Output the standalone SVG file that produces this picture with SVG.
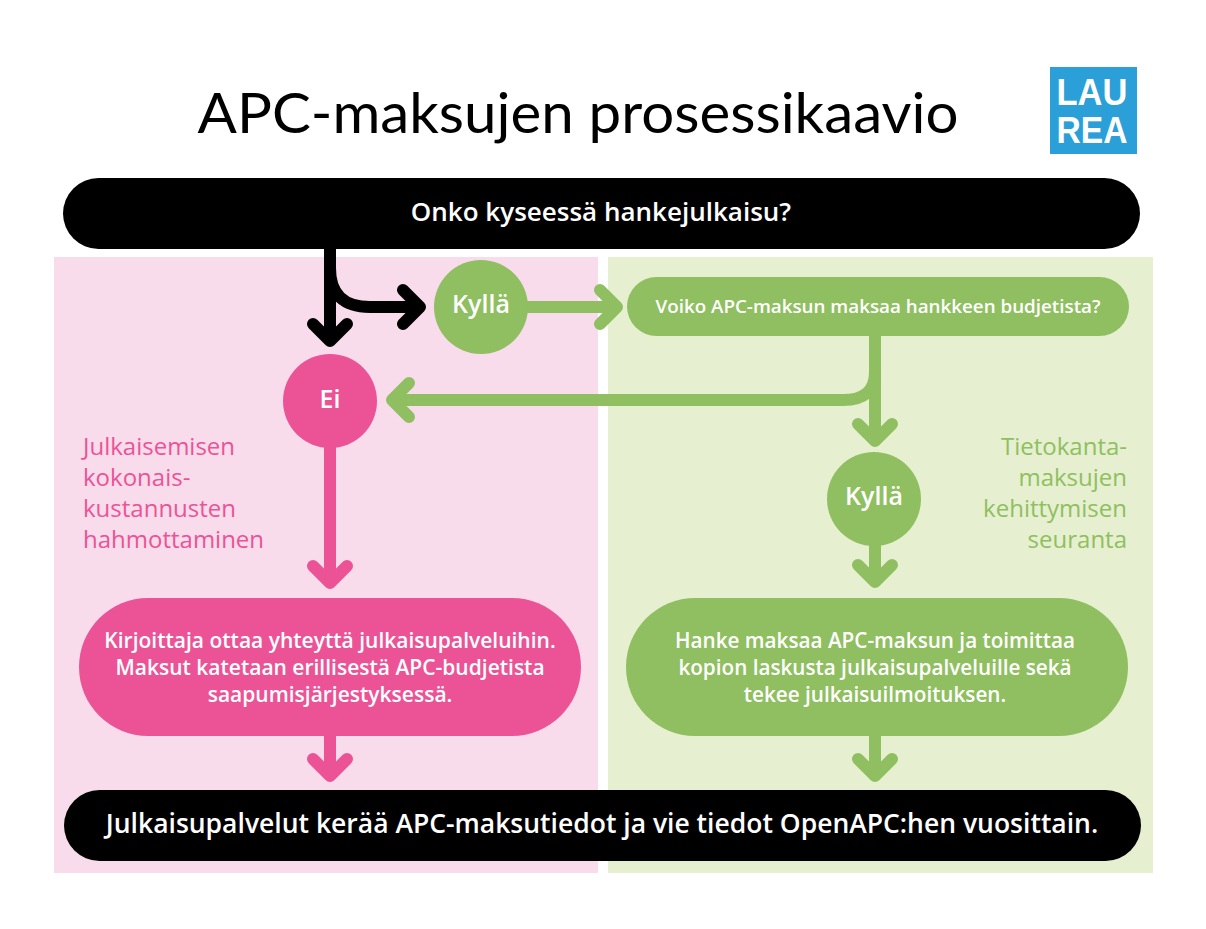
<svg xmlns="http://www.w3.org/2000/svg" width="1206" height="929" viewBox="0 0 1206 929">
<style>
text{font-family:"Open Sans","Noto Sans","Liberation Sans",sans-serif;text-anchor:middle}
.w{fill:#fff;font-weight:600}
.b{font-size:25px}
.s{font-size:21px}
.s2{font-size:20.7px}
.side{font-size:24px;font-weight:400}
.c{fill:none;stroke-width:12}
.k{stroke:#000}.g{stroke:#8fbf60}.p{stroke:#ec5396}
.head{fill:none;stroke-width:12;stroke-linecap:round;stroke-linejoin:round}
</style>
<defs>
<marker id="ak" markerUnits="userSpaceOnUse" orient="auto" overflow="visible" markerWidth="1" markerHeight="1" refX="0" refY="0"><path class="head k" d="M-17-17L0 0L-17 17"/></marker>
<marker id="ag" markerUnits="userSpaceOnUse" orient="auto" overflow="visible" markerWidth="1" markerHeight="1" refX="0" refY="0"><path class="head g" d="M-17-17L0 0L-17 17"/></marker>
<marker id="ap" markerUnits="userSpaceOnUse" orient="auto" overflow="visible" markerWidth="1" markerHeight="1" refX="0" refY="0"><path class="head p" d="M-17-17L0 0L-17 17"/></marker>
</defs>
<rect width="1206" height="929" fill="#fff"/>
<rect id="pink-panel" x="54" y="257" width="544" height="616" fill="#f9dcec"/>
<rect id="green-panel" x="608" y="257" width="545" height="616" fill="#e6efcf"/>
<text x="578" y="133" font-size="57" font-weight="400" textLength="761" lengthAdjust="spacingAndGlyphs" fill="#000" style="font-family:'Lato','Open Sans',sans-serif">APC-maksujen prosessikaavio</text>
<g id="logo"><rect x="1050" y="67" width="87" height="87" fill="#2a9fd8"/>
<text x="1092" y="105" font-size="36" font-weight="700" fill="#fff" textLength="71" lengthAdjust="spacingAndGlyphs" style="font-family:'Liberation Sans',sans-serif">LAU</text>
<text x="1092" y="143" font-size="36" font-weight="700" fill="#fff" textLength="71" lengthAdjust="spacingAndGlyphs" style="font-family:'Liberation Sans',sans-serif">REA</text></g>
<g id="connectors">
<path class="c k" d="M330 245V341" marker-end="url(#ak)"/>
<path class="c k" d="M330 268Q330 307 370 307H420" marker-end="url(#ak)"/>
<path class="c g" d="M525 307H617" marker-end="url(#ag)"/>
<path class="c g" d="M875 334V441" marker-end="url(#ag)"/>
<path class="c g" d="M875 360V372Q875 400 843 400H392" marker-end="url(#ag)"/>
<path class="c g" d="M875 543V582" marker-end="url(#ag)"/>
<path class="c p" d="M330 445V583" marker-end="url(#ap)"/>
<path class="c p" d="M330 733V776" marker-end="url(#ap)"/>
<path class="c g" d="M875 733V776" marker-end="url(#ag)"/>
</g>
<g id="start"><rect x="63" y="178" width="1077" height="71" rx="35.5" fill="#000"/><text class="w" x="601" y="221" font-size="26">Onko kyseessä hankejulkaisu?</text></g>
<g id="yes1"><circle cx="481" cy="307" r="47" fill="#8fbf60"/><text class="w b" x="481" y="313">Kyllä</text></g>
<g id="question"><rect x="627" y="277" width="502" height="59" rx="29.5" fill="#8fbf60"/><text class="w" x="878" y="313" font-size="18.8">Voiko APC-maksun maksaa hankkeen budjetista?</text></g>
<g id="no"><circle cx="330" cy="401" r="47" fill="#ec5396"/><text class="w b" x="330" y="408">Ei</text></g>
<g id="yes2"><circle cx="874" cy="499" r="47" fill="#8fbf60"/><text class="w b" x="874" y="505">Kyllä</text></g>
<g id="pink-label">
<text class="side" fill="#ec5396" x="83" y="455" style="text-anchor:start">Julkaisemisen</text>
<text class="side" fill="#ec5396" x="83" y="486" style="text-anchor:start">kokonais-</text>
<text class="side" fill="#ec5396" x="83" y="517" style="text-anchor:start">kustannusten</text>
<text class="side" fill="#ec5396" x="83" y="548" style="text-anchor:start">hahmottaminen</text>
</g>
<g id="green-label">
<text class="side" fill="#8fbf60" x="1127" y="455" style="text-anchor:end">Tietokanta-</text>
<text class="side" fill="#8fbf60" x="1127" y="486" style="text-anchor:end">maksujen</text>
<text class="side" fill="#8fbf60" x="1127" y="517" style="text-anchor:end">kehittymisen</text>
<text class="side" fill="#8fbf60" x="1127" y="548" style="text-anchor:end">seuranta</text>
</g>
<g id="writer"><rect x="79" y="598" width="502" height="138" rx="69" fill="#ec5396"/>
<text class="w s" x="330" y="648">Kirjoittaja ottaa yhteyttä julkaisupalveluihin.</text>
<text class="w s" x="330" y="675">Maksut katetaan erillisestä APC-budjetista</text>
<text class="w s" x="330" y="702">saapumisjärjestyksessä.</text></g>
<g id="project"><rect x="626" y="598" width="502" height="138" rx="69" fill="#8fbf60"/>
<text class="w s2" x="875" y="648">Hanke maksaa APC-maksun ja toimittaa</text>
<text class="w s2" x="875" y="675">kopion laskusta julkaisupalveluille sekä</text>
<text class="w s2" x="875" y="702">tekee julkaisuilmoituksen.</text></g>
<g id="end"><rect x="64" y="790" width="1077" height="71" rx="35.5" fill="#000"/><text class="w" x="602" y="833" font-size="26.5">Julkaisupalvelut kerää APC-maksutiedot ja vie tiedot OpenAPC:hen vuosittain.</text></g>
</svg>
